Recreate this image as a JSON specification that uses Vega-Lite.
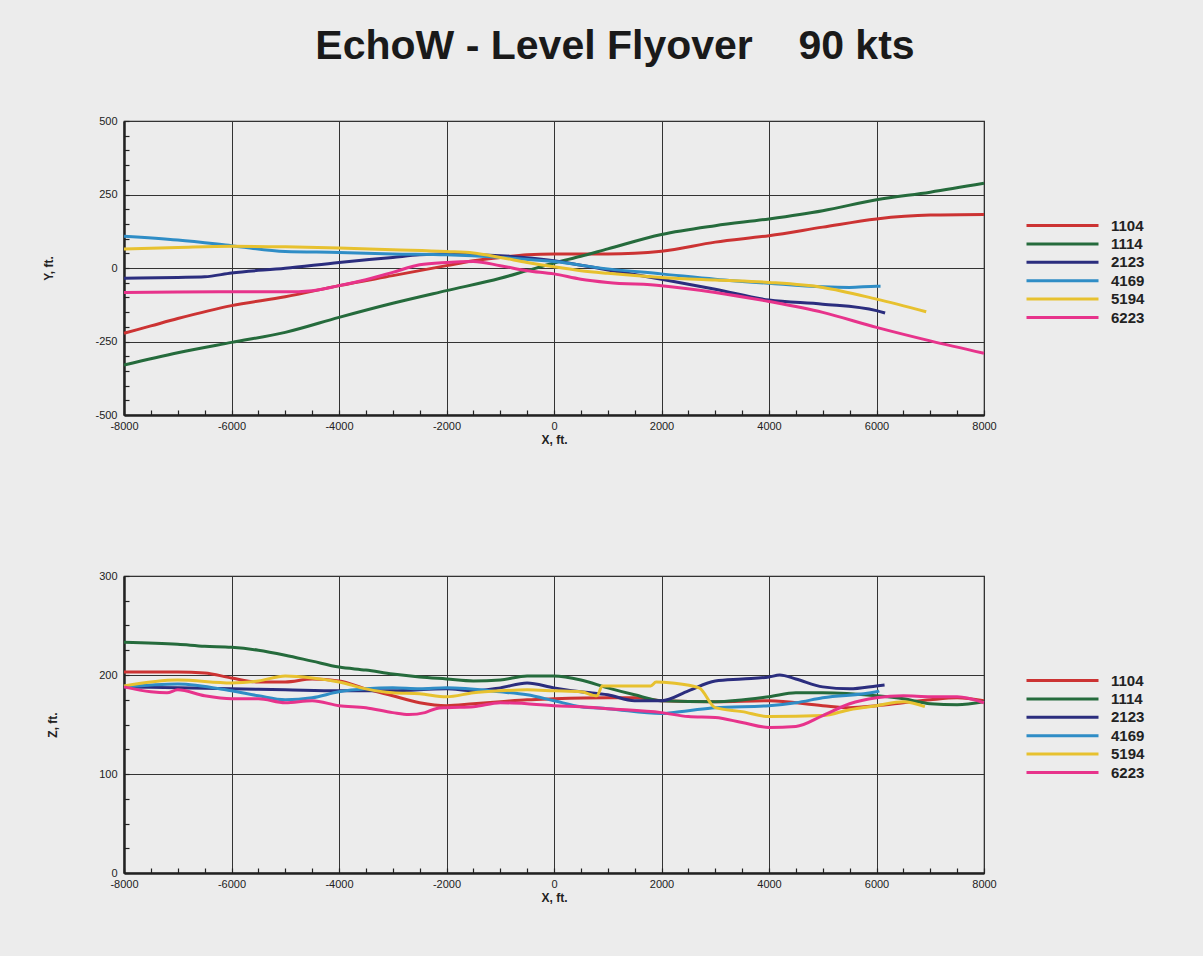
{
  "$schema": "https://vega.github.io/schema/vega-lite/v6.json",
  "background": "#ececec",
  "padding": {"left": 42, "top": 26, "right": 108, "bottom": 56},
  "title": {"text": "EchoW - Level Flyover\u00a0\u00a0\u00a0 90 kts", "fontSize": 41, "font": "Liberation Sans", "fontWeight": "bold", "color": "#1a1a1a", "anchor": "middle", "offset": 46, "dx": 21},
  "datasets": {
    "top": [
      {"s":"1104","x":-8000,"v":-222},{"s":"1104","x":-7500,"v":-197},{"s":"1104","x":-7000,"v":-172},{"s":"1104","x":-6000,"v":-128},{"s":"1104","x":-5000,"v":-98},{"s":"1104","x":-4000,"v":-60},{"s":"1104","x":-3000,"v":-26},{"s":"1104","x":-2000,"v":8},{"s":"1104","x":-1500,"v":25},{"s":"1104","x":-1000,"v":36},{"s":"1104","x":-500,"v":45},{"s":"1104","x":0,"v":48},{"s":"1104","x":1000,"v":48},{"s":"1104","x":1500,"v":50},{"s":"1104","x":2000,"v":57},{"s":"1104","x":3000,"v":88},{"s":"1104","x":4000,"v":110},{"s":"1104","x":5000,"v":139},{"s":"1104","x":6000,"v":167},{"s":"1104","x":7000,"v":180},{"s":"1104","x":8000,"v":182},
      {"s":"1114","x":-8000,"v":-330},{"s":"1114","x":-7000,"v":-288},{"s":"1114","x":-6000,"v":-253},{"s":"1114","x":-5000,"v":-219},{"s":"1114","x":-4000,"v":-168},{"s":"1114","x":-3000,"v":-120},{"s":"1114","x":-2000,"v":-77},{"s":"1114","x":-1000,"v":-35},{"s":"1114","x":-500,"v":-9},{"s":"1114","x":0,"v":17},{"s":"1114","x":500,"v":40},{"s":"1114","x":1000,"v":65},{"s":"1114","x":2000,"v":114},{"s":"1114","x":3000,"v":144},{"s":"1114","x":4000,"v":167},{"s":"1114","x":5000,"v":195},{"s":"1114","x":6000,"v":232},{"s":"1114","x":7000,"v":258},{"s":"1114","x":8000,"v":288},
      {"s":"2123","x":-8000,"v":-35},{"s":"2123","x":-7000,"v":-32},{"s":"2123","x":-6500,"v":-30},{"s":"2123","x":-6000,"v":-17},{"s":"2123","x":-5000,"v":-1},{"s":"2123","x":-4000,"v":19},{"s":"2123","x":-3000,"v":36},{"s":"2123","x":-2500,"v":45},{"s":"2123","x":-2000,"v":48},{"s":"2123","x":-1000,"v":42},{"s":"2123","x":0,"v":25},{"s":"2123","x":1000,"v":-7},{"s":"2123","x":2000,"v":-38},{"s":"2123","x":3000,"v":-72},{"s":"2123","x":4000,"v":-109},{"s":"2123","x":5000,"v":-123},{"s":"2123","x":6000,"v":-145},{"s":"2123","x":6160,"v":-153},
      {"s":"4169","x":-8000,"v":108},{"s":"4169","x":-7000,"v":95},{"s":"4169","x":-6000,"v":76},{"s":"4169","x":-5000,"v":56},{"s":"4169","x":-4000,"v":53},{"s":"4169","x":-3000,"v":48},{"s":"4169","x":-2000,"v":45},{"s":"4169","x":-1000,"v":36},{"s":"4169","x":0,"v":22},{"s":"4169","x":1000,"v":-3},{"s":"4169","x":2000,"v":-20},{"s":"4169","x":3000,"v":-38},{"s":"4169","x":4000,"v":-52},{"s":"4169","x":5000,"v":-64},{"s":"4169","x":5500,"v":-66},{"s":"4169","x":6000,"v":-62},{"s":"4169","x":6075,"v":-62},
      {"s":"5194","x":-8000,"v":65},{"s":"5194","x":-7000,"v":70},{"s":"5194","x":-6000,"v":74},{"s":"5194","x":-5000,"v":72},{"s":"5194","x":-4000,"v":68},{"s":"5194","x":-3000,"v":62},{"s":"5194","x":-2000,"v":56},{"s":"5194","x":-1500,"v":51},{"s":"5194","x":-1000,"v":36},{"s":"5194","x":-500,"v":19},{"s":"5194","x":0,"v":4},{"s":"5194","x":500,"v":-9},{"s":"5194","x":1000,"v":-18},{"s":"5194","x":2000,"v":-32},{"s":"5194","x":3000,"v":-41},{"s":"5194","x":4000,"v":-49},{"s":"5194","x":5000,"v":-66},{"s":"5194","x":6000,"v":-106},{"s":"5194","x":6925,"v":-149},
      {"s":"6223","x":-8000,"v":-83},{"s":"6223","x":-7000,"v":-82},{"s":"6223","x":-6000,"v":-81},{"s":"6223","x":-5000,"v":-81},{"s":"6223","x":-4500,"v":-77},{"s":"6223","x":-4000,"v":-60},{"s":"6223","x":-3500,"v":-40},{"s":"6223","x":-3000,"v":-15},{"s":"6223","x":-2500,"v":11},{"s":"6223","x":-2000,"v":19},{"s":"6223","x":-1500,"v":22},{"s":"6223","x":-1000,"v":8},{"s":"6223","x":-500,"v":-9},{"s":"6223","x":0,"v":-20},{"s":"6223","x":500,"v":-38},{"s":"6223","x":1000,"v":-49},{"s":"6223","x":2000,"v":-60},{"s":"6223","x":3000,"v":-83},{"s":"6223","x":4000,"v":-114},{"s":"6223","x":5000,"v":-151},{"s":"6223","x":6000,"v":-202},{"s":"6223","x":7000,"v":-248},{"s":"6223","x":8000,"v":-290}
    ],
    "bottom": [
      {"s":"1104","x":-8000,"v":203},{"s":"1104","x":-7000,"v":203},{"s":"1104","x":-6500,"v":202},{"s":"1104","x":-6000,"v":197},{"s":"1104","x":-5500,"v":193},{"s":"1104","x":-5000,"v":193},{"s":"1104","x":-4500,"v":196},{"s":"1104","x":-4000,"v":194},{"s":"1104","x":-3500,"v":186},{"s":"1104","x":-3000,"v":179},{"s":"1104","x":-2500,"v":172},{"s":"1104","x":-2000,"v":169},{"s":"1104","x":-1500,"v":171},{"s":"1104","x":-1000,"v":173},{"s":"1104","x":-500,"v":175},{"s":"1104","x":0,"v":176},{"s":"1104","x":1000,"v":177},{"s":"1104","x":1500,"v":177},{"s":"1104","x":2000,"v":174},{"s":"1104","x":3000,"v":173},{"s":"1104","x":4000,"v":174},{"s":"1104","x":5000,"v":169},{"s":"1104","x":5500,"v":167},{"s":"1104","x":6000,"v":169},{"s":"1104","x":6500,"v":172},{"s":"1104","x":7000,"v":175},{"s":"1104","x":7500,"v":177},{"s":"1104","x":8000,"v":174},
      {"s":"1114","x":-8000,"v":233},{"s":"1114","x":-7000,"v":231},{"s":"1114","x":-6500,"v":229},{"s":"1114","x":-6000,"v":228},{"s":"1114","x":-5500,"v":225},{"s":"1114","x":-5000,"v":220},{"s":"1114","x":-4500,"v":214},{"s":"1114","x":-4000,"v":208},{"s":"1114","x":-3500,"v":205},{"s":"1114","x":-3000,"v":201},{"s":"1114","x":-2500,"v":198},{"s":"1114","x":-2000,"v":196},{"s":"1114","x":-1500,"v":194},{"s":"1114","x":-1000,"v":195},{"s":"1114","x":-500,"v":199},{"s":"1114","x":0,"v":199},{"s":"1114","x":500,"v":195},{"s":"1114","x":1000,"v":187},{"s":"1114","x":1500,"v":180},{"s":"1114","x":2000,"v":174},{"s":"1114","x":3000,"v":173},{"s":"1114","x":4000,"v":178},{"s":"1114","x":4500,"v":182},{"s":"1114","x":5000,"v":182},{"s":"1114","x":6000,"v":179},{"s":"1114","x":6500,"v":176},{"s":"1114","x":7000,"v":171},{"s":"1114","x":7500,"v":170},{"s":"1114","x":8000,"v":173},
      {"s":"2123","x":-8000,"v":188},{"s":"2123","x":-7000,"v":187},{"s":"2123","x":-6000,"v":186},{"s":"2123","x":-5000,"v":185},{"s":"2123","x":-4000,"v":184},{"s":"2123","x":-3000,"v":184},{"s":"2123","x":-2000,"v":186},{"s":"2123","x":-1500,"v":184},{"s":"2123","x":-1000,"v":187},{"s":"2123","x":-500,"v":192},{"s":"2123","x":0,"v":187},{"s":"2123","x":500,"v":183},{"s":"2123","x":1000,"v":180},{"s":"2123","x":1500,"v":174},{"s":"2123","x":2000,"v":174},{"s":"2123","x":2500,"v":184},{"s":"2123","x":3000,"v":194},{"s":"2123","x":3500,"v":196},{"s":"2123","x":4000,"v":198},{"s":"2123","x":4200,"v":200},{"s":"2123","x":4500,"v":196},{"s":"2123","x":5000,"v":188},{"s":"2123","x":5500,"v":186},{"s":"2123","x":6000,"v":189},{"s":"2123","x":6150,"v":190},
      {"s":"4169","x":-8000,"v":188},{"s":"4169","x":-7000,"v":191},{"s":"4169","x":-6000,"v":184},{"s":"4169","x":-5500,"v":179},{"s":"4169","x":-5000,"v":175},{"s":"4169","x":-4500,"v":177},{"s":"4169","x":-4000,"v":183},{"s":"4169","x":-3500,"v":186},{"s":"4169","x":-3000,"v":187},{"s":"4169","x":-2500,"v":186},{"s":"4169","x":-2000,"v":187},{"s":"4169","x":-1000,"v":183},{"s":"4169","x":-500,"v":180},{"s":"4169","x":0,"v":174},{"s":"4169","x":500,"v":168},{"s":"4169","x":1000,"v":166},{"s":"4169","x":2000,"v":161},{"s":"4169","x":2500,"v":164},{"s":"4169","x":3000,"v":167},{"s":"4169","x":4000,"v":169},{"s":"4169","x":4500,"v":172},{"s":"4169","x":5000,"v":177},{"s":"4169","x":6000,"v":183},{"s":"4169","x":6050,"v":184},
      {"s":"5194","x":-8000,"v":189},{"s":"5194","x":-7000,"v":195},{"s":"5194","x":-6000,"v":192},{"s":"5194","x":-5500,"v":194},{"s":"5194","x":-5000,"v":199},{"s":"5194","x":-4500,"v":197},{"s":"5194","x":-4000,"v":193},{"s":"5194","x":-3500,"v":186},{"s":"5194","x":-3000,"v":182},{"s":"5194","x":-2500,"v":181},{"s":"5194","x":-2000,"v":178},{"s":"5194","x":-1500,"v":182},{"s":"5194","x":-1000,"v":184},{"s":"5194","x":-500,"v":185},{"s":"5194","x":0,"v":184},{"s":"5194","x":500,"v":183},{"s":"5194","x":800,"v":179},{"s":"5194","x":900,"v":189},{"s":"5194","x":1500,"v":189},{"s":"5194","x":1800,"v":189},{"s":"5194","x":1900,"v":193},{"s":"5194","x":2200,"v":192},{"s":"5194","x":2700,"v":187},{"s":"5194","x":3000,"v":167},{"s":"5194","x":3500,"v":163},{"s":"5194","x":4000,"v":158},{"s":"5194","x":5000,"v":159},{"s":"5194","x":5500,"v":165},{"s":"5194","x":6000,"v":169},{"s":"5194","x":6500,"v":173},{"s":"5194","x":6900,"v":168},
      {"s":"6223","x":-8000,"v":188},{"s":"6223","x":-7500,"v":183},{"s":"6223","x":-7200,"v":182},{"s":"6223","x":-7000,"v":185},{"s":"6223","x":-6500,"v":179},{"s":"6223","x":-6000,"v":176},{"s":"6223","x":-5500,"v":176},{"s":"6223","x":-5000,"v":172},{"s":"6223","x":-4500,"v":174},{"s":"6223","x":-4000,"v":169},{"s":"6223","x":-3500,"v":167},{"s":"6223","x":-3000,"v":162},{"s":"6223","x":-2700,"v":160},{"s":"6223","x":-2400,"v":162},{"s":"6223","x":-2200,"v":166},{"s":"6223","x":-2000,"v":167},{"s":"6223","x":-1500,"v":168},{"s":"6223","x":-1000,"v":172},{"s":"6223","x":-500,"v":171},{"s":"6223","x":0,"v":169},{"s":"6223","x":500,"v":168},{"s":"6223","x":1000,"v":166},{"s":"6223","x":2000,"v":162},{"s":"6223","x":2500,"v":158},{"s":"6223","x":3000,"v":157},{"s":"6223","x":3500,"v":152},{"s":"6223","x":4000,"v":147},{"s":"6223","x":4500,"v":148},{"s":"6223","x":5000,"v":159},{"s":"6223","x":5500,"v":171},{"s":"6223","x":6000,"v":177},{"s":"6223","x":6500,"v":179},{"s":"6223","x":7000,"v":178},{"s":"6223","x":7500,"v":178},{"s":"6223","x":8000,"v":172}
    ]
  },
  "spacing": 123,
  "resolve": {"legend": {"color": "independent"}},
  "vconcat": [
    {
      "width": 860, "height": 294,
      "data": {"name": "top"},
      "mark": {"type": "line", "strokeWidth": 3, "interpolate": "monotone"},
      "encoding": {
        "x": {"field": "x", "type": "quantitative", "title": "X, ft.", "scale": {"domain": [-8000, 8000], "nice": false},
              "axis": {"values": [-8000,-7500,-7000,-6500,-6000,-5500,-5000,-4500,-4000,-3500,-3000,-2500,-2000,-1500,-1000,-500,0,500,1000,1500,2000,2500,3000,3500,4000,4500,5000,5500,6000,6500,7000,7500,8000],
                       "labelExpr": "datum.value % 2000 === 0 ? '' + datum.value : ''",
                       "gridOpacity": {"condition": {"test": "datum.value % 2000 === 0", "value": 1}, "value": 0}}},
        "y": {"field": "v", "type": "quantitative", "title": "Y, ft.", "scale": {"domain": [-500, 500], "nice": false},
              "axis": {"values": [-500,-450,-400,-350,-300,-250,-200,-150,-100,-50,0,50,100,150,200,250,300,350,400,450,500],
                       "labelExpr": "datum.value % 250 === 0 ? '' + datum.value : ''",
                       "gridOpacity": {"condition": {"test": "datum.value % 250 === 0", "value": 1}, "value": 0}}},
        "color": {"field": "s", "type": "nominal", "title": null,
                  "scale": {"domain": ["1104","1114","2123","4169","5194","6223"], "range": ["#cc3333","#256b3c","#2b2d7e","#2f8dc6","#e7c12f","#e7338b"]},
                  "legend": {"orient": "none", "legendX": 931, "legendY": 97}}
      }
    },
    {
      "width": 860, "height": 297,
      "data": {"name": "bottom"},
      "mark": {"type": "line", "strokeWidth": 3, "interpolate": "monotone"},
      "encoding": {
        "x": {"field": "x", "type": "quantitative", "title": "X, ft.", "scale": {"domain": [-8000, 8000], "nice": false},
              "axis": {"values": [-8000,-7500,-7000,-6500,-6000,-5500,-5000,-4500,-4000,-3500,-3000,-2500,-2000,-1500,-1000,-500,0,500,1000,1500,2000,2500,3000,3500,4000,4500,5000,5500,6000,6500,7000,7500,8000],
                       "labelExpr": "datum.value % 2000 === 0 ? '' + datum.value : ''",
                       "gridOpacity": {"condition": {"test": "datum.value % 2000 === 0", "value": 1}, "value": 0}}},
        "y": {"field": "v", "type": "quantitative", "title": "Z, ft.", "scale": {"domain": [0, 300], "nice": false},
              "axis": {"values": [0,25,50,75,100,125,150,175,200,225,250,275,300],
                       "labelExpr": "datum.value % 100 === 0 ? '' + datum.value : ''",
                       "gridOpacity": {"condition": {"test": "datum.value % 100 === 0", "value": 1}, "value": 0}}},
        "color": {"field": "s", "type": "nominal", "title": null,
                  "scale": {"domain": ["1104","1114","2123","4169","5194","6223"], "range": ["#cc3333","#256b3c","#2b2d7e","#2f8dc6","#e7c12f","#e7338b"]},
                  "legend": {"orient": "none", "legendX": 931, "legendY": 97}}
      }
    }
  ],
  "config": {
    "font": "Liberation Sans",
    "view": {"stroke": "#222222", "strokeWidth": 1.2},
    "axis": {
      "domainColor": "#222222", "domainWidth": 2.5,
      "tickColor": "#222222", "tickWidth": 1.2, "tickSize": -5,
      "grid": true, "gridColor": "#333333", "gridWidth": 1,
      "labelFont": "Liberation Sans", "labelFontSize": 11, "labelColor": "#222222",
      "titleFont": "Liberation Sans", "titleFontSize": 12, "titleFontWeight": "bold", "titleColor": "#222222"
    },
    "axisX": {"labelPadding": 10, "titlePadding": 3, "labelFlush": false, "labelOverlap": false},
    "axisY": {"labelPadding": 12, "titlePadding": 39, "labelOverlap": false},
    "legend": {
      "symbolType": "M-6,0H6", "symbolStrokeWidth": 3, "symbolSize": 144, "symbolFillColor": "transparent",
      "labelFont": "Liberation Sans", "labelFontSize": 15, "labelFontWeight": "bold", "labelColor": "#222222",
      "rowPadding": 2.4, "labelOffset": 41
    }
  }
}
